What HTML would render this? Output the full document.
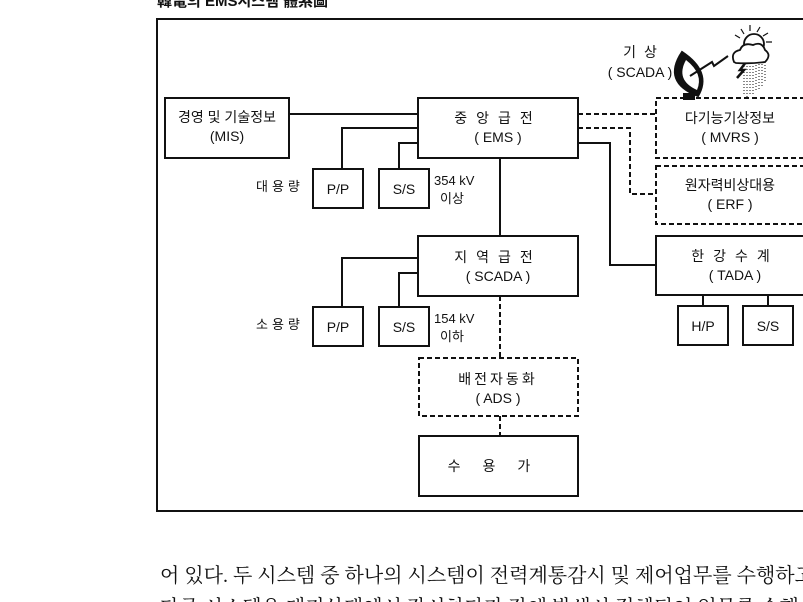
<!DOCTYPE html>
<html><head><meta charset="utf-8"><style>
html,body{margin:0;padding:0;background:#fff;width:803px;height:602px;overflow:hidden}
svg{display:block}
text{font-family:"Liberation Sans","Noto Sans CJK KR",sans-serif;fill:#111}
</style></head><body>
<svg width="803" height="602" viewBox="0 0 803 602" xmlns="http://www.w3.org/2000/svg">
<text x="157" y="6" font-size="15" font-weight="bold">韓電의 EMS시스템 體系圖</text>
<g fill="none" stroke="#111" stroke-width="2">
<rect x="157" y="19" width="660" height="492"/>
<rect x="165" y="98" width="124" height="60"/>
<rect x="418" y="98" width="160" height="60"/>
<rect x="313" y="169" width="50" height="39"/>
<rect x="379" y="169" width="50" height="39"/>
<rect x="418" y="236" width="160" height="60"/>
<rect x="656" y="236" width="160" height="59"/>
<rect x="313" y="307" width="50" height="39"/>
<rect x="379" y="307" width="50" height="39"/>
<rect x="678" y="306" width="50" height="39"/>
<rect x="743" y="306" width="50" height="39"/>
<rect x="419" y="436" width="159" height="60"/>
<path d="M289 114H418 M342 169V128H418 M399 169V143H418 M500 158V236 M578 143H610V265H656 M342 307V258H418 M399 307V273H418 M703 295V306 M768 295V306"/>
</g>
<g fill="none" stroke="#111" stroke-width="2" stroke-dasharray="5,3">
<rect x="656" y="98" width="160" height="60"/>
<rect x="656" y="166" width="160" height="58"/>
<rect x="419" y="358" width="159" height="58"/>
<path d="M578 114H656 M578 128H630V194H656 M500 296V358 M500 416V436"/>
</g>
<g font-size="14" text-anchor="middle">
<text x="227" y="122">경영 및 기술정보</text>
<text x="227" y="141">(MIS)</text>
<text x="498" y="123" letter-spacing="9">중앙급전</text>
<text x="498" y="142">( EMS )</text>
<text x="730" y="123">다기능기상정보</text>
<text x="730" y="142">( MVRS )</text>
<text x="730" y="190">원자력비상대용</text>
<text x="730" y="209">( ERF )</text>
<text x="338" y="194">P/P</text>
<text x="404" y="194">S/S</text>
<text x="498" y="262" letter-spacing="9">지역급전</text>
<text x="498" y="281">( SCADA )</text>
<text x="735" y="261" letter-spacing="9">한강수계</text>
<text x="735" y="280">( TADA )</text>
<text x="338" y="332">P/P</text>
<text x="404" y="332">S/S</text>
<text x="703" y="331">H/P</text>
<text x="768" y="331">S/S</text>
<text x="498" y="384" letter-spacing="3">배전자동화</text>
<text x="498" y="403">( ADS )</text>
<text x="500" y="471" letter-spacing="22">수용가</text>
<text x="644" y="57" letter-spacing="8">기상</text>
<text x="640" y="77">( SCADA )</text>
</g>
<g font-size="13">
<text x="256" y="191" letter-spacing="4">대용량</text>
<text x="256" y="329" letter-spacing="4">소용량</text>
<text x="434" y="185">354 kV</text>
<text x="440" y="203">이상</text>
<text x="434" y="323">154 kV</text>
<text x="440" y="341">이하</text>
</g>
<!-- antenna -->
<g stroke="#111" stroke-width="2">
<path d="M682 52 Q662 82 698 96 Q712 72 682 52Z" fill="#111"/>
<path d="M686 60 Q675 80 697 90 Q704 74 686 60Z" fill="#fff" stroke="none"/>
<rect x="684" y="94" width="10" height="5" fill="#111"/>
<path d="M690 76 L712 62 L714 66 L728 56" fill="none"/>
<path d="M737 78 L744 70 L740 70 L746 62" fill="none" stroke-width="2.5"/>
</g>
<g stroke="#111" stroke-width="1.2" fill="none">
<path d="M744 34 l-3 -5 M750 31 l0 -6 M757 32 l3 -5 M763 36 l5 -3 M766 42 l6 0 M740 38 l-5 -3"/>
</g>
<g fill="#fff" stroke="#111" stroke-width="1.8">
<circle cx="754" cy="44" r="10"/>
<path d="M734 62 Q730 52 740 50 Q743 42 753 45 Q762 41 765 50 Q772 55 765 62 Q750 64 736 63Z"/>
</g>
<g stroke="#111" stroke-width="1" stroke-dasharray="1,2">
<path d="M744 66V96 M747 66V98 M750 66V96 M753 66V94 M756 65V92 M759 64V90 M762 64V86 M765 62V82"/>
</g>
<g font-size="20">
<text x="160" y="582" style="font-family:'Liberation Serif','Noto Serif CJK SC',serif">어 있다. 두 시스템 중 하나의 시스템이 전력계통감시 및 제어업무를 수행하고</text>
<text x="160" y="614" style="font-family:'Liberation Serif','Noto Serif CJK SC',serif">다른 시스템은 대기상태에서 감시하다가 장애 발생시 절체되어 업무를 수행</text>
</g>
</svg>
</body></html>
